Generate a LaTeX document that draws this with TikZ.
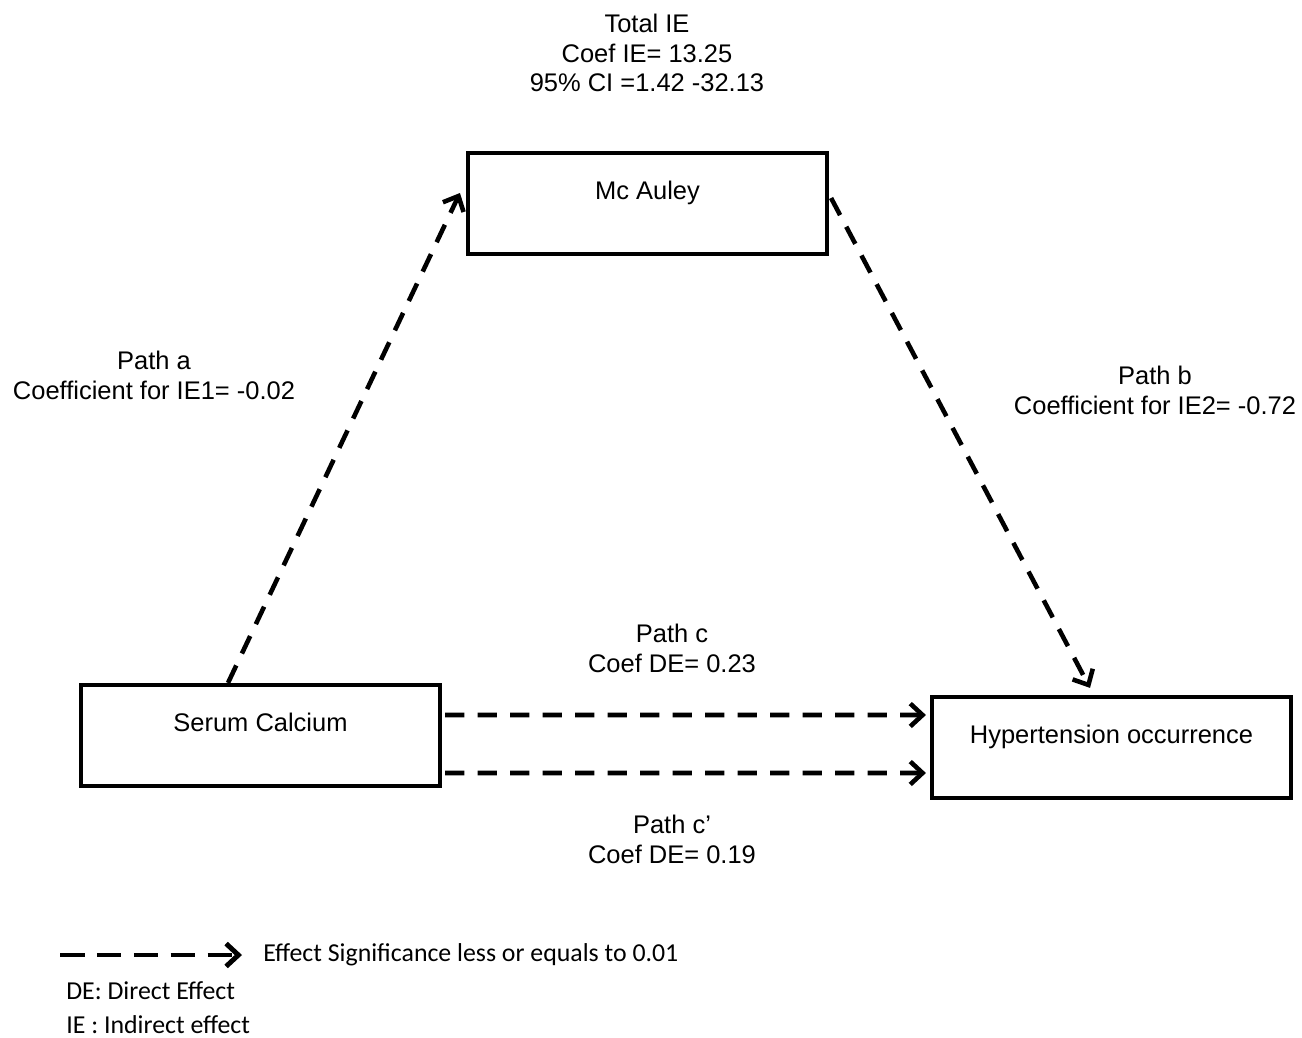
\documentclass[tikz,border=0pt]{standalone}
\usepackage{fontspec}
\setmainfont{Liberation Sans}
\newfontfamily\legendfont{Carlito}
\usetikzlibrary{arrows.meta,positioning}
\begin{document}
\begin{tikzpicture}[x=0.02cm,y=-0.02cm,>={Straight Barb[length=7pt,width=13pt]},
  box/.style={draw,line width=2.4pt,minimum width=7.18cm,minimum height=2.02cm,inner sep=0pt,
    text height=10.5pt,text depth=15pt,font=\fontsize{14.5}{17}\selectfont},
  lbl/.style={align=center,inner sep=0pt,font=\fontsize{14.5}{17}\selectfont},
  eff/.style={->,line width=2.6pt,dash pattern=on 11pt off 7.5pt},
  leg/.style={anchor=west,inner sep=0pt,font=\legendfont\fontsize{14.7}{17}\selectfont}]
  \useasboundingbox (0,0) rectangle (1302,1038);
  \node[box] (ma) at (647.5,203.5) {Mc Auley};
  \node[box] (sc) at (260.5,735.5) {Serum Calcium};
  \node[box] (hy) at (1111.5,747.5) {Hypertension occurrence};
  \node[lbl] (tie) at (647,53) {Total IE\\Coef IE= 13.25\\95\% CI =1.42 -32.13};
  \node[lbl] (pa) at (154,375) {Path a\\Coefficient for IE1= -0.02};
  \node[lbl] (pb) at (1155,390) {Path b\\Coefficient for IE2= -0.72};
  \node[lbl] (pc) at (672,648) {Path c\\Coef DE= 0.23};
  \node[lbl] (pcc) at (672,839) {Path c'\\Coef DE= 0.19};
  \draw[eff] ([xshift=-0.65cm]sc.north) -- ([xshift=-0.12cm,yshift=0.21cm]ma.west);
  \draw[eff] ([xshift=0.04cm,yshift=0.11cm]ma.east) -- ([xshift=-0.43cm,yshift=0.14cm]hy.north);
  \draw[eff] ([xshift=0.06cm,yshift=0.41cm]sc.east) -- ([xshift=-0.08cm,yshift=0.65cm]hy.west);
  \draw[eff] ([xshift=0.06cm,yshift=-0.75cm]sc.east) -- ([xshift=-0.08cm,yshift=-0.51cm]hy.west);
  \node[leg] (sig) at (263,955) {Effect Significance less or equals to 0.01};
  \coordinate (legstart) at (60,955);
  \draw[->,line width=2.8pt,dash pattern=on 14pt off 7pt] (legstart) -- ([xshift=-0.42cm]sig.west);
  \node[leg] (de) at (66,991) {DE: Direct Effect};
  \node[leg] (ie) at (66,1025) {IE : Indirect effect};
\end{tikzpicture}
\end{document}
